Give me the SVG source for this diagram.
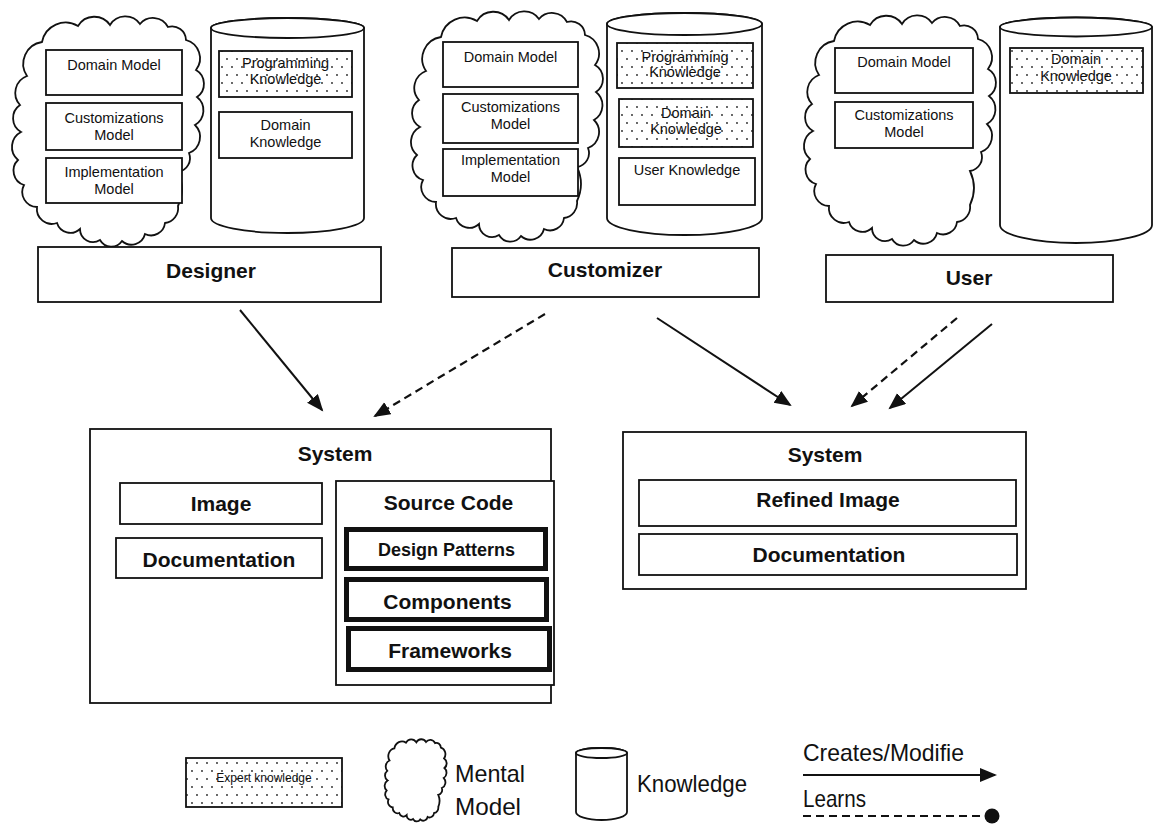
<svg xmlns="http://www.w3.org/2000/svg" xmlns:xlink="http://www.w3.org/1999/xlink" width="1153" height="825" viewBox="0 0 1153 825">
  <defs>
    <style>
      .b { fill: #fff; stroke: #111; stroke-width: 1.8; }
      .dot { fill: url(#dots); stroke: #111; stroke-width: 1.8; }
      .thick { fill: #fff; stroke: #111; stroke-width: 5; }
      .shape { fill: #fff; stroke: #111; stroke-width: 1.8; }
      .t { font-family: "Liberation Sans", Arial, sans-serif; font-size: 14.5px; fill: #111; text-anchor: middle; }
      .h { font-family: "Liberation Sans", Arial, sans-serif; font-size: 21px; font-weight: bold; fill: #111; text-anchor: middle; }
      .lg { font-family: "Liberation Sans", Arial, sans-serif; font-size: 24px; fill: #111; }
      .line { fill: none; stroke: #111; stroke-width: 2; }
      .dash { fill: none; stroke: #111; stroke-width: 2.2; stroke-dasharray: 8 5; }
    </style>
    <pattern id="dots" width="10" height="16" patternUnits="userSpaceOnUse">
      <rect width="10" height="16" fill="#fff"/>
      <circle cx="2" cy="3" r="0.9" fill="#222"/>
      <circle cx="7" cy="11" r="0.9" fill="#222"/>
    </pattern>
    <marker id="arrow" markerUnits="userSpaceOnUse" markerWidth="19" markerHeight="15" refX="15" refY="7" orient="auto">
      <path d="M0,0 L17,7 L0,14 Z" fill="#111"/>
    </marker>
    <marker id="ball" markerUnits="userSpaceOnUse" markerWidth="16" markerHeight="16" refX="8" refY="8" orient="auto">
      <circle cx="8" cy="8" r="7.5" fill="#111"/>
    </marker>
    <!-- cloud outline used for every mental model -->
    <path id="cloud" vector-effect="non-scaling-stroke" d="M42 42 A24 24 0 0 1 78 26 A19 19 0 0 1 110 25 A18 18 0 0 1 140 24 A17 17 0 0 1 168 27 A14 14 0 0 1 186 40 A19 19 0 0 1 196 70 A16 16 0 0 1 197 97 A17 17 0 0 1 195 125 A17 17 0 0 1 189 153 A14 14 0 0 1 178 172 A40 40 0 0 1 178 206 A15 15 0 0 1 165 223 A14 14 0 0 1 145 234 A14 14 0 0 1 122 241 A13 13 0 0 1 100 240 A13 13 0 0 1 80 229 A14 14 0 0 1 57 223 A15 15 0 0 1 37 207 A15 15 0 0 1 24 185 A15 15 0 0 1 18 160 A17 17 0 0 1 21 132 A16 16 0 0 1 20 105 A18 18 0 0 1 27 76 A22 22 0 0 1 42 42 Z"/>
  </defs>

  <rect width="1153" height="825" fill="#fff"/>

  <!-- Designer -->
  <g id="designer-mental-model">
    <use xlink:href="#cloud" class="shape"/>
    <rect class="b" x="46" y="50" width="136" height="45"/>
    <text class="t" x="114" y="70">Domain Model</text>
    <rect class="b" x="46" y="103" width="136" height="47"/>
    <text class="t" x="114" y="123">Customizations</text>
    <text class="t" x="114" y="140">Model</text>
    <rect class="b" x="46" y="158" width="136" height="45"/>
    <text class="t" x="114" y="177">Implementation</text>
    <text class="t" x="114" y="194">Model</text>
  </g>
  <g id="designer-knowledge">
    <path class="shape" d="M211 28 V218 A76.5 15 0 0 0 364 218 V28 A76.5 10 0 0 0 211 28 Z"/>
    <ellipse class="shape" cx="287.5" cy="28" rx="76.5" ry="10"/>
    <rect class="dot" x="219" y="51" width="133" height="46"/>
    <text class="t" x="285.5" y="68">Programming</text>
    <text class="t" x="285.5" y="84">Knowledge</text>
    <rect class="b" x="219" y="112" width="133" height="46"/>
    <text class="t" x="285.5" y="130">Domain</text>
    <text class="t" x="285.5" y="147">Knowledge</text>
  </g>
  <g id="designer">
    <rect class="b" x="38" y="247" width="343" height="55"/>
    <text class="h" x="211" y="278">Designer</text>
  </g>

  <!-- Customizer -->
  <g id="customizer-mental-model">
    <use xlink:href="#cloud" class="shape" transform="translate(399,-5)"/>
    <rect class="b" x="443" y="42" width="135" height="45"/>
    <text class="t" x="510.5" y="62">Domain Model</text>
    <rect class="b" x="443" y="94" width="135" height="49"/>
    <text class="t" x="510.5" y="112">Customizations</text>
    <text class="t" x="510.5" y="129">Model</text>
    <rect class="b" x="443" y="149" width="135" height="47"/>
    <text class="t" x="510.5" y="165">Implementation</text>
    <text class="t" x="510.5" y="182">Model</text>
  </g>
  <g id="customizer-knowledge">
    <path class="shape" d="M607 24 V218 A77.5 17 0 0 0 762 218 V24 A77.5 11 0 0 0 607 24 Z"/>
    <ellipse class="shape" cx="684.5" cy="24" rx="77.5" ry="11"/>
    <rect class="dot" x="617" y="43" width="136" height="45"/>
    <text class="t" x="685" y="62">Programming</text>
    <text class="t" x="685" y="77">Knowledge</text>
    <rect class="dot" x="619" y="99" width="134" height="48"/>
    <text class="t" x="686" y="118">Domain</text>
    <text class="t" x="686" y="134">Knowledge</text>
    <rect class="b" x="619" y="158" width="136" height="47"/>
    <text class="t" x="687" y="175">User Knowledge</text>
  </g>
  <g id="customizer">
    <rect class="b" x="452" y="248" width="307" height="49"/>
    <text class="h" x="605" y="277">Customizer</text>
  </g>

  <!-- User -->
  <g id="user-mental-model">
    <use xlink:href="#cloud" class="shape" transform="translate(792,-1)"/>
    <rect class="b" x="835" y="48" width="138" height="45"/>
    <text class="t" x="904" y="67">Domain Model</text>
    <rect class="b" x="835" y="102" width="138" height="46"/>
    <text class="t" x="904" y="120">Customizations</text>
    <text class="t" x="904" y="137">Model</text>
  </g>
  <g id="user-knowledge">
    <path class="shape" d="M1000 27 V225 A76 18 0 0 0 1152 225 V27 A76 9.5 0 0 0 1000 27 Z"/>
    <ellipse class="shape" cx="1076" cy="27" rx="76" ry="9.5"/>
    <rect class="dot" x="1010" y="48" width="133" height="45"/>
    <text class="t" x="1076" y="64">Domain</text>
    <text class="t" x="1076" y="81">Knowledge</text>
  </g>
  <g id="user">
    <rect class="b" x="826" y="255" width="287" height="47"/>
    <text class="h" x="969" y="285">User</text>
  </g>

  <!-- System built by the designer -->
  <g id="system-design">
    <rect class="b" x="90" y="429" width="461" height="274"/>
    <text class="h" x="335" y="461">System</text>
    <rect class="b" x="120" y="483" width="202" height="41"/>
    <text class="h" x="221" y="511">Image</text>
    <rect class="b" x="116" y="538" width="206" height="40"/>
    <text class="h" x="219" y="567">Documentation</text>
    <rect class="b" x="336" y="481" width="218" height="204"/>
    <text class="h" x="448.5" y="510">Source Code</text>
    <rect class="thick" x="346.5" y="529.5" width="199" height="39"/>
    <text class="h" x="446.5" y="556" style="font-size:18px">Design Patterns</text>
    <rect class="thick" x="346.5" y="579.5" width="200" height="40"/>
    <text class="h" x="447.5" y="609">Components</text>
    <rect class="thick" x="348.5" y="628.5" width="201" height="41"/>
    <text class="h" x="450" y="658">Frameworks</text>
  </g>

  <!-- Refined system -->
  <g id="system-refined">
    <rect class="b" x="623" y="432" width="403" height="157"/>
    <text class="h" x="825" y="462">System</text>
    <rect class="b" x="639" y="480" width="377" height="46"/>
    <text class="h" x="828" y="507">Refined Image</text>
    <rect class="b" x="639" y="534" width="378" height="41"/>
    <text class="h" x="829" y="562">Documentation</text>
  </g>

  <!-- Connectors -->
  <g id="connectors">
    <line class="line" x1="240" y1="310" x2="322" y2="410" marker-end="url(#arrow)"/>
    <line class="dash" x1="545" y1="314" x2="375" y2="416" marker-end="url(#arrow)"/>
    <line class="line" x1="657" y1="318" x2="790" y2="405" marker-end="url(#arrow)"/>
    <line class="dash" x1="957" y1="318" x2="852" y2="406" marker-end="url(#arrow)"/>
    <line class="line" x1="992" y1="324" x2="890" y2="408" marker-end="url(#arrow)"/>
  </g>

  <!-- Legend -->
  <g id="legend-expert">
    <rect class="dot" x="186" y="758" width="156" height="49"/>
    <text class="t" x="264" y="782" style="font-size:12px">Expert knowledge</text>
  </g>
  <g id="legend-mental-model">
    <use xlink:href="#cloud" class="shape" transform="translate(380.8,733.4) scale(0.323,0.357)"/>
    <text class="lg" x="455" y="782" textLength="70" lengthAdjust="spacingAndGlyphs">Mental</text>
    <text class="lg" x="455" y="815" textLength="66" lengthAdjust="spacingAndGlyphs">Model</text>
  </g>
  <g id="legend-knowledge">
    <path class="shape" d="M576 753 V812 A25.5 8 0 0 0 627 812 V753 A25.5 5 0 0 0 576 753 Z"/>
    <ellipse class="shape" cx="601.5" cy="753" rx="25.5" ry="5"/>
    <text class="lg" x="637" y="792" textLength="110" lengthAdjust="spacingAndGlyphs">Knowledge</text>
  </g>
  <g id="legend-links">
    <text class="lg" x="803" y="761" textLength="161" lengthAdjust="spacingAndGlyphs">Creates/Modifie</text>
    <line class="line" x1="803" y1="775" x2="995" y2="775" marker-end="url(#arrow)"/>
    <text class="lg" x="803" y="807" textLength="63" lengthAdjust="spacingAndGlyphs">Learns</text>
    <line class="dash" x1="803" y1="816" x2="992" y2="816" marker-end="url(#ball)"/>
  </g>
</svg>
